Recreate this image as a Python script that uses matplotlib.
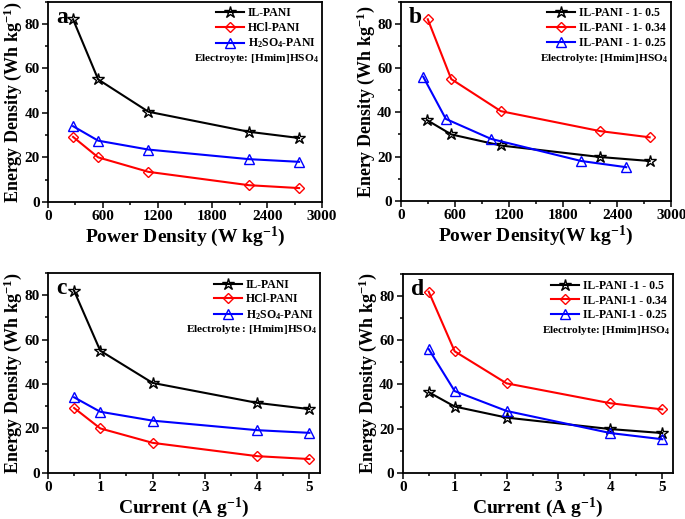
import matplotlib
matplotlib.use('Agg')
import matplotlib.pyplot as plt
from matplotlib.ticker import MultipleLocator, AutoMinorLocator

plt.rcParams['font.family'] = ['Liberation Serif', 'DejaVu Serif']
plt.rcParams['font.weight'] = 'bold'
plt.rcParams['mathtext.fontset'] = 'custom'
plt.rcParams['mathtext.rm'] = 'Liberation Serif:bold'
plt.rcParams['mathtext.bf'] = 'Liberation Serif:bold'
plt.rcParams['mathtext.it'] = 'Liberation Serif:bold'
plt.rcParams['mathtext.default'] = 'bf'

# panel a / c data
power_a = [275, 550, 1100, 2200, 2750]
current = [0.5, 1, 2, 4, 5]
il_pani = [82, 55, 40.5, 31.5, 28.7]
hcl_pani = [29.2, 20, 13.5, 7.5, 6.2]
h2so4_pani = [34, 27.5, 23.5, 19.2, 18]

# panel b / d data
power_b_05 = [290, 560, 1110, 2210, 2760]
power_b_034 = [300, 560, 1110, 2210, 2760]
power_b_025 = [250, 500, 1000, 2000, 2500]
il_05 = [36.5, 30, 25, 19.8, 18]
il_034 = [82, 55, 40.5, 31.5, 28.7]
il_025 = [56, 37, 28, 18, 15.2]

fig = plt.figure(figsize=(6.85, 5.19), dpi=100)
ax_a = fig.add_axes([0.070, 0.611, 0.400, 0.386])
ax_b = fig.add_axes([0.585, 0.613, 0.395, 0.384])
ax_c = fig.add_axes([0.070, 0.089, 0.397, 0.385])
ax_d = fig.add_axes([0.588, 0.089, 0.394, 0.383])

style = dict(lw=1.5, mfc='none', mew=1.0)


def plot_set(ax, xs, ys, labels, colors):
    markers = ['*', 'D', '^']
    sizes = [9, 5.5, 7]
    for x, y, lab, c, m, s in zip(xs, ys, labels, colors, markers, sizes):
        ax.plot(x, y, color=c, marker=m, ms=s, label=lab, **style)


def dress(ax, letter, xlabel, ylabel, elec, power=True):
    ax.set_ylim(0, 90)
    ax.yaxis.set_major_locator(MultipleLocator(20))
    ax.yaxis.set_minor_locator(AutoMinorLocator(2))
    if power:
        ax.set_xlim(0, 3000)
        ax.xaxis.set_major_locator(MultipleLocator(600))
    else:
        ax.set_xlim(0, 5.2)
        ax.xaxis.set_major_locator(MultipleLocator(1))
    ax.xaxis.set_minor_locator(AutoMinorLocator(2))
    ax.tick_params(which='both', direction='out', top=False, right=False,
                   labelsize=11, width=1.1, pad=2)
    ax.tick_params(which='major', length=4)
    ax.tick_params(which='minor', length=2.5)
    for lbl in ax.get_xticklabels() + ax.get_yticklabels():
        lbl.set_fontweight('bold')
    for s in ax.spines.values():
        s.set_linewidth(1.3)
    ax.set_xlabel(xlabel, fontsize=14, fontweight='bold', labelpad=1)
    ax.set_ylabel(ylabel, fontsize=13, fontweight='bold', labelpad=0)
    ax.text(0.03, 0.975, letter, transform=ax.transAxes, fontsize=17,
            fontweight='bold', va='top', ha='left')
    ax.legend(loc='upper right', frameon=False, handlelength=2.4,
              borderaxespad=0.1, labelspacing=0.22, handletextpad=0.3,
              prop={'weight': 'bold', 'size': 8.5})
    ax.text(0.99, 0.715, elec, transform=ax.transAxes, fontsize=8.2,
            fontweight='bold', ha='right', va='center')


ylab = 'Energy Density (Wh kg$^{-1}$)'

plot_set(ax_a, [power_a] * 3, [il_pani, hcl_pani, h2so4_pani],
         ['IL-PANI', 'HCl-PANI', 'H$_2$SO$_4$-PANI'], ['black', 'red', 'blue'])
dress(ax_a, 'a', 'Power Density (W kg$^{-1}$)', ylab,
      'Electroyte: [Hmim]HSO$_4$')

plot_set(ax_b, [power_b_05, power_b_034, power_b_025], [il_05, il_034, il_025],
         ['IL-PANI - 1- 0.5', 'IL-PANI - 1- 0.34', 'IL-PANI - 1- 0.25'],
         ['black', 'red', 'blue'])
dress(ax_b, 'b', 'Power Density(W kg$^{-1}$)', 'Enery Density (Wh kg$^{-1}$)',
      'Electrolyte: [Hmim]HSO$_4$')

plot_set(ax_c, [current] * 3, [il_pani, hcl_pani, h2so4_pani],
         ['IL-PANI', 'HCl-PANI', 'H$_2$SO$_4$-PANI'], ['black', 'red', 'blue'])
dress(ax_c, 'c', 'Current (A g$^{-1}$)', ylab,
      'Electrolyte : [Hmim]HSO$_4$', power=False)

plot_set(ax_d, [current] * 3, [il_05, il_034, il_025],
         ['IL-PANI -1 - 0.5', 'IL-PANI-1 - 0.34', 'IL-PANI-1 - 0.25'],
         ['black', 'red', 'blue'])
dress(ax_d, 'd', 'Current (A g$^{-1}$)', ylab,
      'Electrolyte: [Hmim]HSO$_4$', power=False)

fig.savefig('out.png', dpi=100)
